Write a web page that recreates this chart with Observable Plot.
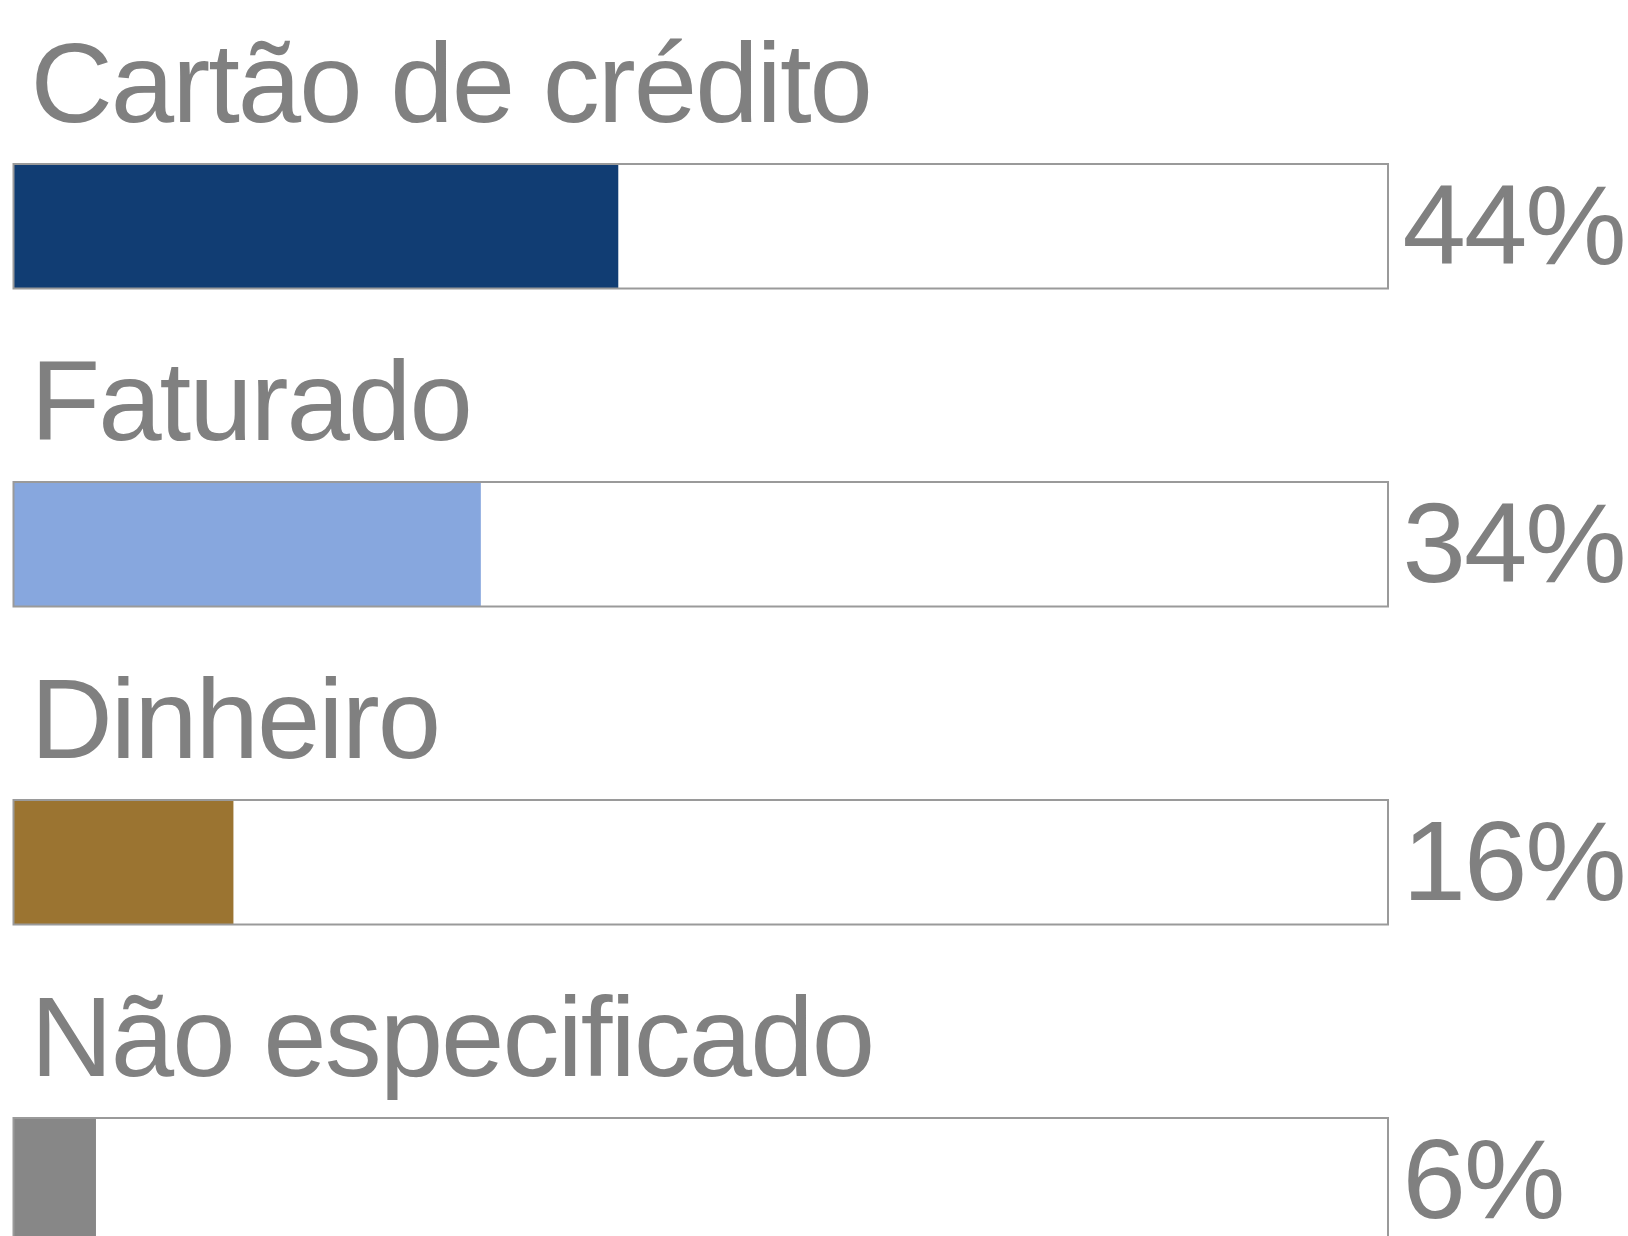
<!DOCTYPE html>
<html>
<head>
<meta charset="utf-8">
<script src="https://cdn.jsdelivr.net/npm/d3@7"></script>
<script src="https://cdn.jsdelivr.net/npm/@observablehq/plot@0.6"></script>
<style>
  html, body { margin: 0; padding: 0; background: #ffffff; overflow: hidden; }
  #chart svg { display: block; }
  #chart text { letter-spacing: -2px; }
</style>
</head>
<body>
<div id="chart"></div>
<script>
const categories = ["Cartão de crédito", "Faturado", "Dinheiro", "Não especificado"];
const values = [0.44, 0.34, 0.16, 0.06];
const labels = ["44%", "34%", "16%", "6%"];
const colors = ["#113d73", "#87a7de", "#9b7431", "#878787"];

const data = categories.map((c, i) => ({category: c, value: values[i], label: labels[i], color: colors[i]}));

const step = 318.7;
const textColor = "#808080";
const font = "'Liberation Sans', Arial, Helvetica, sans-serif";

const chart = Plot.plot({
  width: 1628,
  height: 1236,
  marginTop: 0, marginRight: 0, marginBottom: 0, marginLeft: 0,
  style: {background: "#ffffff", fontFamily: font},
  x: {domain: [0, 1], range: [13.5, 1388], axis: null},
  y: {domain: categories, range: [0, step * categories.length], padding: 0, axis: null},
  marks: [
    Plot.barX(data, {x1: 0, x2: 1, y: "category", fill: "#ffffff", insetTop: 163, insetBottom: 30.5}),
    Plot.barX(data, {x1: 0, x2: "value", y: "category", fill: "color", insetTop: 163, insetBottom: 30.5}),
    Plot.barX(data, {x1: 0, x2: 1, y: "category", fill: "none", stroke: "#9a9a9a", strokeWidth: 2, insetTop: 163, insetBottom: 30.5}),
    Plot.text(data, {x: () => 0, y: "category", text: "category", textAnchor: "start", lineAnchor: "bottom",
      dx: 16.5, dy: 120.5 - step / 2, fontSize: 114, fill: textColor, fontFamily: font}),
    Plot.text(data, {x: () => 1, y: "category", text: "label", textAnchor: "start", lineAnchor: "bottom",
      dx: 14, dy: 263 - step / 2, fontSize: 114, fill: textColor, fontFamily: font})
  ]
});
document.getElementById("chart").appendChild(chart);
</script>
</body>
</html>
